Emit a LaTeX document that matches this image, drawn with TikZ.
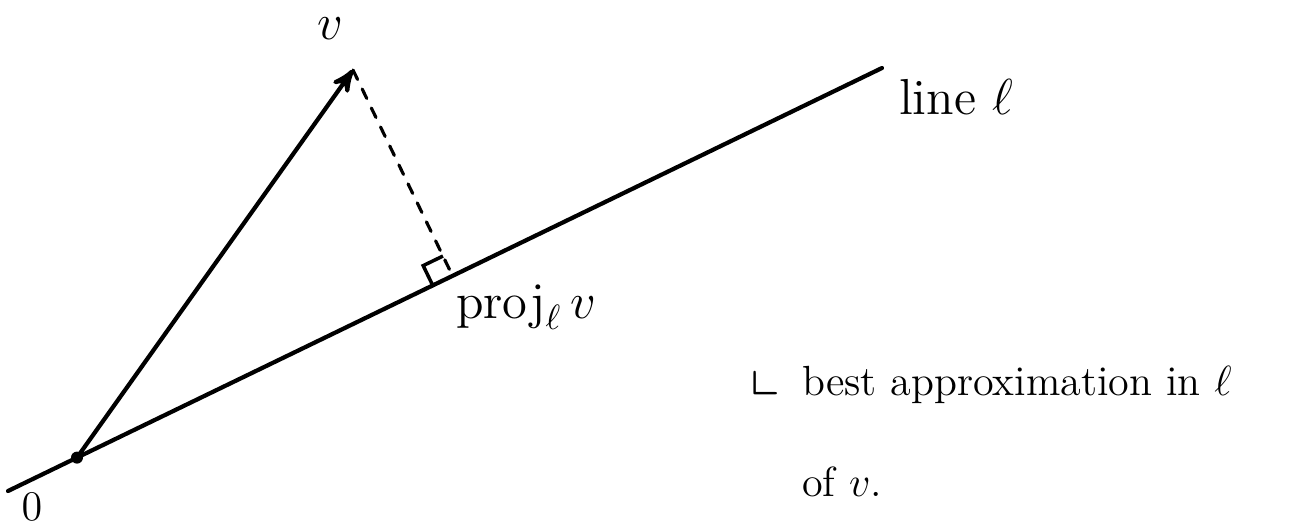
\documentclass[tikz,border=0pt]{standalone}
\usepackage{amsmath}
\usepackage{amssymb}
\usepackage{tikz}
\usetikzlibrary{arrows, positioning, calc}

\begin{document}
\begin{tikzpicture}[
	tratto/.style={line width=1.2pt, line cap=round},
	testo/.style={font=\Large, inner sep=1pt}]
	
	% Cornice dell'immagine
	\useasboundingbox (0,0) rectangle (13.15,5.27);
	
	% Punti principali
	\coordinate (L1) at (0.08,0.36);
	\coordinate (L2) at (8.82,4.59);
	\coordinate (O) at (0.77,0.694);
	\coordinate (V) at (3.53,4.57);
	\coordinate (P) at ($(L1)!(V)!(L2)$);
	
	% Retta l e vettore v
	\draw[tratto] (L1) -- (L2);
	\draw[tratto, ->, >=stealth'] (O) -- (V);
	\fill (O) circle (0.06);
	
	% Proiezione (tratteggiata) e angolo retto
	\draw[tratto, line width=0.9pt, dashed] (V) -- (P);
	\coordinate (A) at ($(P)!0.22cm!(O)$);
	\coordinate (B) at ($(P)!0.22cm!(V)$);
	\draw[line width=1pt] (A) -- ($(A)+(B)-(P)$) -- (B);
	
	% Etichette
	\node[testo] (lv) at (3.30,4.98) {$v$};
	\node[testo, font=\large] (lo) at (0.32,0.20) {$0$};
	\node[testo, anchor=west] (ll) at (8.95,4.30) {line $\ell$};
	\node[testo, anchor=west] (lp) at (4.52,2.20) {$\mathrm{proj}_{\ell}\, v$};
	\node[testo, anchor=east] (lc) at (7.85,1.45) {\LARGE$\llcorner$};
	\node[testo, font=\large, anchor=west] (lb) at (7.98,1.42) {best approximation in $\ell$};
	\node[testo, font=\large, anchor=west] (lf) at (7.98,0.45) {of $v$.};
	
\end{tikzpicture}
\end{document}
